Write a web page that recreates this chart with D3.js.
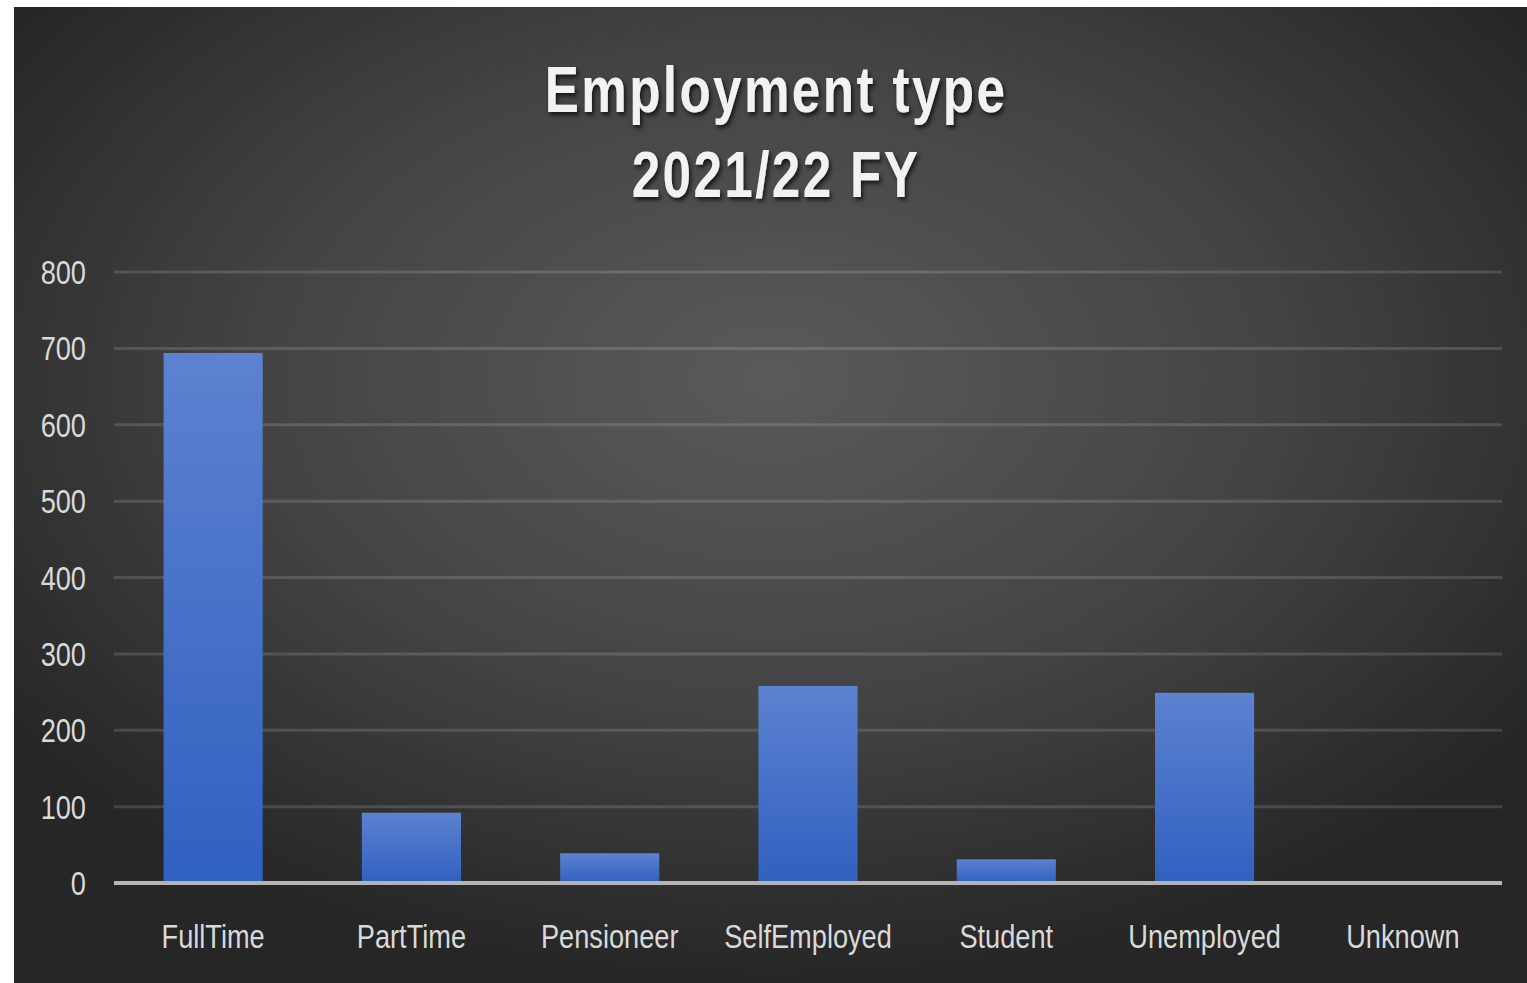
<!DOCTYPE html>
<html>
<head>
<meta charset="utf-8">
<script src="https://cdn.jsdelivr.net/npm/d3@7/dist/d3.min.js"></script>
<style>
  html, body { margin: 0; padding: 0; background: #ffffff; }
  svg { display: block; }
</style>
</head>
<body>
<svg id="chart" width="1527" height="983"></svg>
<script>
// Employment type counts, 2021/22 financial year
const categories = ["FullTime", "PartTime", "Pensioneer", "SelfEmployed", "Student", "Unemployed", "Unknown"];
const counts = [694, 92, 39, 258, 31, 249, 1];
const yTicks = [0, 100, 200, 300, 400, 500, 600, 700, 800];
const titleLines = ["Employment type", "2021/22 FY"];

const W = 1527, H = 983;
const panel = { x: 14, y: 7, w: W - 14, h: H - 7 };
const plot = { left: 114, right: 1502, top: 272, bottom: 883 };
const squeeze = 0.8; // narrow text face

const svg = d3.select("#chart");
const defs = svg.append("defs");

// dark radial backdrop
const bg = defs.append("radialGradient").attr("id", "bgGrad")
  .attr("cx", "50%").attr("cy", "38%").attr("r", "62%");
bg.append("stop").attr("offset", "0%").attr("stop-color", "#5a5a5a");
bg.append("stop").attr("offset", "55%").attr("stop-color", "#434343");
bg.append("stop").attr("offset", "100%").attr("stop-color", "#262626");

// bar fill
const barGrad = defs.append("linearGradient").attr("id", "barGrad")
  .attr("x1", 0).attr("y1", 0).attr("x2", 0).attr("y2", 1);
barGrad.append("stop").attr("offset", "0%").attr("stop-color", "#5c82d0");
barGrad.append("stop").attr("offset", "100%").attr("stop-color", "#3060c0");

// soft title shadow
const shadow = defs.append("filter").attr("id", "textShadow")
  .attr("x", "-10%").attr("y", "-20%").attr("width", "120%").attr("height", "150%");
shadow.append("feDropShadow").attr("dx", 2).attr("dy", 3).attr("stdDeviation", 2)
  .attr("flood-color", "#000").attr("flood-opacity", 0.7);

svg.append("rect")
  .attr("x", panel.x).attr("y", panel.y).attr("width", panel.w).attr("height", panel.h)
  .attr("fill", "url(#bgGrad)");

const x = d3.scaleBand().domain(categories)
  .range([plot.left, plot.right]).paddingInner(0.5).paddingOuter(0.25);
const y = d3.scaleLinear().domain([0, 800]).range([plot.bottom, plot.top]);

// horizontal gridlines
svg.append("g").selectAll("line").data(yTicks.filter(d => d > 0)).join("line")
  .attr("x1", plot.left).attr("x2", plot.right)
  .attr("y1", d => y(d)).attr("y2", d => y(d))
  .attr("stroke", "rgba(255,255,255,0.14)").attr("stroke-width", 3);

// y tick labels
svg.append("g").selectAll("text").data(yTicks).join("text")
  .attr("transform", d => `translate(86,${y(d) + 12}) scale(${squeeze},1)`)
  .attr("text-anchor", "end")
  .attr("font-family", "'Liberation Sans', Arial, sans-serif")
  .attr("font-size", 34)
  .attr("fill", "#d9d9d9")
  .text(d => d);

// bars
svg.append("g").selectAll("rect").data(categories).join("rect")
  .attr("x", d => x(d))
  .attr("width", x.bandwidth())
  .attr("y", (d, i) => y(counts[i]))
  .attr("height", (d, i) => y(0) - y(counts[i]))
  .attr("fill", "url(#barGrad)");

// category axis line
svg.append("line")
  .attr("x1", plot.left).attr("x2", plot.right)
  .attr("y1", y(0)).attr("y2", y(0))
  .attr("stroke", "#b4b4b4").attr("stroke-width", 4);

// category labels
svg.append("g").selectAll("text").data(categories).join("text")
  .attr("transform", d => `translate(${x(d) + x.bandwidth() / 2},948) scale(${squeeze},1)`)
  .attr("text-anchor", "middle")
  .attr("font-family", "'Liberation Sans', Arial, sans-serif")
  .attr("font-size", 34)
  .attr("fill", "#d9d9d9")
  .text(d => d);

// title
svg.append("g").attr("filter", "url(#textShadow)")
  .selectAll("text").data(titleLines).join("text")
  .attr("transform", (d, i) => `translate(776,${112 + i * 85}) scale(${squeeze},1)`)
  .attr("text-anchor", "middle")
  .attr("font-family", "'Liberation Sans', Arial, sans-serif")
  .attr("font-weight", "bold")
  .attr("font-size", 64)
  .attr("letter-spacing", 3)
  .attr("fill", "#f2f2f2")
  .text(d => d);
</script>
</body>
</html>
